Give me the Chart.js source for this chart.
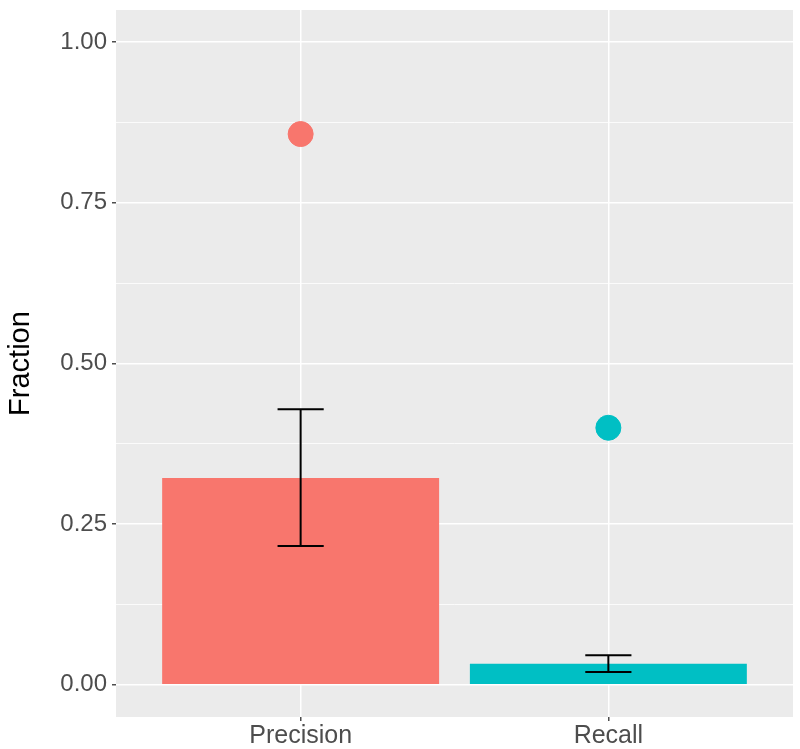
<!DOCTYPE html>
<html>
<head>
<meta charset="utf-8">
<script src="https://cdn.jsdelivr.net/npm/chart.js@4"></script>
<style>
  html, body { margin: 0; padding: 0; background: #fff; }
  #wrap { width: 800px; height: 749px; }
</style>
</head>
<body>
<div id="wrap"><canvas id="chartCanvas" width="800" height="749"></canvas></div>
<script>
const categories = ["Precision", "Recall"];
const barValues = [0.322, 0.033];
const errLow = [0.216, 0.020];
const errHigh = [0.429, 0.046];
const pointValues = [0.857, 0.400];
const yTicks = [0, 0.125, 0.25, 0.375, 0.5, 0.625, 0.75, 0.875, 1.0];
const colors = ["#F8766D", "#00BFC4"];

const xs = categories.map((c, i) => i + 1);

// grey ggplot panel behind everything
const panelBg = {
  id: "panelBg",
  beforeDraw(chart) {
    const a = chart.chartArea, ctx = chart.ctx;
    ctx.save();
    ctx.fillStyle = "#EBEBEB";
    ctx.fillRect(a.left, a.top, a.right - a.left, a.bottom - a.top);
    ctx.restore();
  }
};

// error bars drawn through the scales
const errorBars = {
  id: "errorBars",
  afterDatasetsDraw(chart) {
    const x = chart.scales.x, y = chart.scales.y, ctx = chart.ctx;
    ctx.save();
    ctx.strokeStyle = "#000";
    ctx.lineWidth = 2;
    xs.forEach((v, i) => {
      const px = x.getPixelForValue(v);
      const l = x.getPixelForValue(v - 0.075), r = x.getPixelForValue(v + 0.075);
      const lo = y.getPixelForValue(errLow[i]), hi = y.getPixelForValue(errHigh[i]);
      ctx.beginPath();
      ctx.moveTo(px, lo); ctx.lineTo(px, hi);
      ctx.moveTo(l, lo); ctx.lineTo(r, lo);
      ctx.moveTo(l, hi); ctx.lineTo(r, hi);
      ctx.stroke();
    });
    ctx.restore();
  }
};

const isMajor = v => Math.abs(v * 4 - Math.round(v * 4)) < 1e-6;
const font = "Liberation Sans, Arial, sans-serif";

const ctx = document.getElementById("chartCanvas").getContext("2d");
new Chart(ctx, {
  data: {
    datasets: [
      {
        type: "scatter",
        data: xs.map((x, i) => ({ x: x, y: pointValues[i] })),
        backgroundColor: colors,
        borderColor: colors,
        pointRadius: 12.5,
        pointHoverRadius: 12.5,
        order: 0
      },
      {
        type: "bar",
        data: xs.map((x, i) => ({ x: x, y: barValues[i] })),
        backgroundColor: colors,
        borderWidth: 0,
        categoryPercentage: 1,
        barPercentage: 0.9,
        order: 1
      }
    ]
  },
  options: {
    responsive: false,
    animation: false,
    layout: { autoPadding: false, padding: { top: 10, right: 7, left: 0, bottom: 0 } },
    plugins: { legend: { display: false }, tooltip: { enabled: false } },
    scales: {
      x: {
        type: "linear",
        min: 0.4,
        max: 2.6,
        offset: false,
        afterBuildTicks: s => { s.ticks = xs.map(v => ({ value: v })); },
        afterFit: s => { s.height = 32; s.paddingLeft = 0; s.paddingRight = 0; },
        ticks: {
          callback: v => categories[v - 1] || "",
          font: { family: font, size: 25 },
          color: "#4D4D4D",
          padding: 0,
          maxRotation: 0
        },
        grid: { offset: false, color: "#FFFFFF", lineWidth: 1.5, tickColor: "#4D4D4D", tickLength: 4 },
        border: { display: false }
      },
      y: {
        type: "linear",
        min: -0.05,
        max: 1.05,
        afterBuildTicks: s => { s.ticks = yTicks.map(v => ({ value: v })); },
        afterFit: s => { s.width = 116; s.paddingTop = 0; s.paddingBottom = 0; },
        ticks: {
          callback: v => isMajor(v) ? v.toFixed(2) : "",
          font: { family: font, size: 24 },
          color: "#4D4D4D",
          padding: 5
        },
        grid: {
          color: "#FFFFFF",
          lineWidth: c => isMajor(c.tick.value) ? 1.5 : 0.8,
          tickColor: c => isMajor(c.tick.value) ? "#4D4D4D" : "rgba(0,0,0,0)",
          tickLength: 4
        },
        border: { display: false },
        title: {
          display: true,
          text: "Fraction",
          font: { family: font, size: 29 },
          color: "#000",
          padding: { top: 4, bottom: 0 }
        }
      }
    }
  },
  plugins: [panelBg, errorBars]
});
</script>
</body>
</html>
